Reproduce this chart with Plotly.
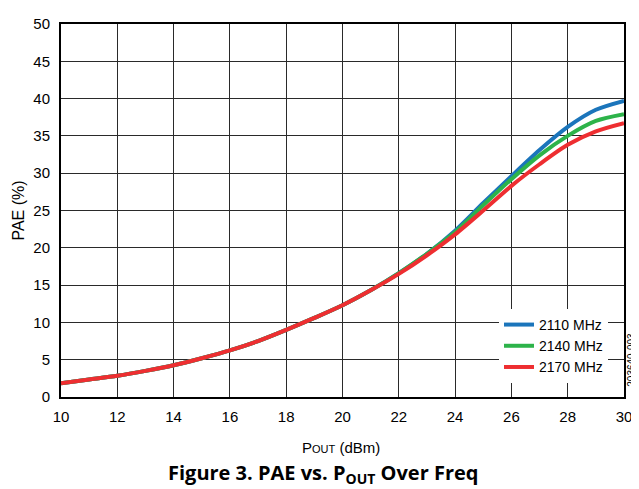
import plotly.graph_objects as go

pout = [10, 11, 12, 13, 14, 15, 16, 17, 18, 19, 20, 21, 22, 23, 24, 25, 26, 27, 28, 29, 30]
pae_2110 = [1.85, 2.35, 2.85, 3.5, 4.25, 5.2, 6.25, 7.5, 9.0, 10.6, 12.3, 14.3, 16.6, 19.2, 22.3, 26.0, 29.6, 33.1, 36.2, 38.5, 39.7]
pae_2140 = [1.85, 2.35, 2.85, 3.5, 4.25, 5.2, 6.25, 7.5, 9.0, 10.6, 12.3, 14.3, 16.6, 19.2, 22.1, 25.7, 29.2, 32.4, 35.0, 37.0, 37.9]
pae_2170 = [1.85, 2.35, 2.85, 3.5, 4.25, 5.2, 6.25, 7.5, 9.0, 10.6, 12.3, 14.3, 16.5, 19.0, 21.8, 25.0, 28.3, 31.2, 33.8, 35.6, 36.7]

series = [
    ("2110 MHz", pae_2110, "#1b75bb"),
    ("2140 MHz", pae_2140, "#2db34a"),
    ("2170 MHz", pae_2170, "#ee2e31"),
]

x_ticks = [10, 12, 14, 16, 18, 20, 22, 24, 26, 28, 30]
y_ticks = [0, 5, 10, 15, 20, 25, 30, 35, 40, 45, 50]

NARROW = "Liberation Sans Narrow, Arial Narrow, Liberation Sans, Arial, sans-serif"
ARIAL = "Liberation Sans, Arial, sans-serif"

fig = go.Figure()
for name, vals, col in series:
    fig.add_trace(go.Scatter(x=pout, y=vals, name=name, mode="lines",
                             line=dict(color=col, width=4, shape="spline", smoothing=0.8)))

fig.update_layout(
    width=631, height=481,
    margin=dict(l=53, r=14, t=7, b=92),
    paper_bgcolor="white", plot_bgcolor="white",
    font=dict(family=NARROW, size=15, color="black"),
    showlegend=True,
    legend=dict(x=0.778, y=0.236, xanchor="left", yanchor="top",
                bgcolor="white", borderwidth=0,
                font=dict(family=NARROW, size=14, color="black"),
                tracegroupgap=0, itemwidth=30),
    xaxis=dict(range=[10, 30], tickvals=x_ticks, ticktext=[str(v) for v in x_ticks],
               showgrid=True, gridcolor="#2a2a2a", gridwidth=1,
               showline=True, linecolor="black", linewidth=2, mirror=True,
               ticks="", zeroline=False, tickfont=dict(size=15), ticklabelstandoff=5,
               ticklabeloverflow="allow"),
    yaxis=dict(range=[0, 50], tickvals=y_ticks, ticktext=[str(v) for v in y_ticks],
               showgrid=True, gridcolor="#2a2a2a", gridwidth=1,
               showline=True, linecolor="black", linewidth=2, mirror=True,
               ticks="", zeroline=False, tickfont=dict(size=15), ticklabelstandoff=6,
               ticklabeloverflow="allow",
               title=dict(text="PAE (%)", font=dict(family=ARIAL, size=16), standoff=5)),
)

fig.add_annotation(text="P<span style='font-size:11px'>OUT</span> (dBm)", x=0.497, y=-0.136,
                   xref="paper", yref="paper", showarrow=False, xanchor="center", yanchor="middle",
                   font=dict(family=NARROW, size=15))
fig.add_annotation(text="<b>Figure 3. PAE vs. P<sub>OUT</sub> Over Freq</b>", x=0.465, y=-0.16,
                   xref="paper", yref="paper", showarrow=False, xanchor="center", yanchor="top",
                   font=dict(family="Open Sans, sans-serif", size=20))
fig.add_annotation(text="203640-003", x=1.0, y=0.10, xref="paper", yref="paper",
                   xshift=8, showarrow=False, textangle=-90, xanchor="center", yanchor="middle",
                   font=dict(family=ARIAL, size=10))

fig.write_html("out.html")
